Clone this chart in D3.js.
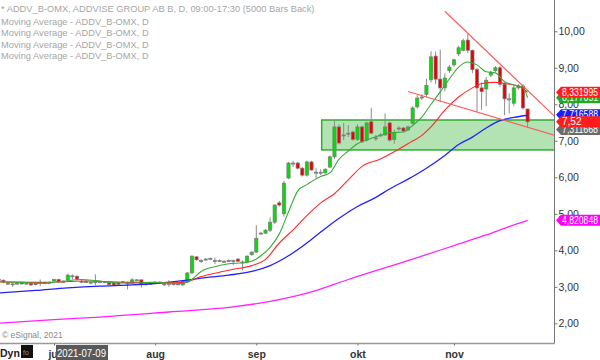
<!DOCTYPE html>
<html>
<head>
<meta charset="utf-8">
<script src="https://cdn.jsdelivr.net/npm/d3@7"></script>
<style>
    body { margin: 0; background: #fff; }
    svg { display: block; font-family: "Liberation Sans", Arial, sans-serif; }
</style>
</head>
<body>
<script>
(function () {
    const width = 600;
    const height = 360;
    const plotRight = 554;
    const plotBottom = 343;

    // trading days, Stockholm closed on midsummer eve
    const holidays = ["2021-06-25"];
    const fmt = d3.timeFormat("%Y-%m-%d");
    const tradingDays = d3.timeDay.range(new Date(2021, 5, 14), new Date(2021, 10, 24))
        .filter(d => d.getDay() % 6 !== 0 && !holidays.includes(fmt(d)))
        .map(fmt);

    const openPrices = [
        3.20, 3.18, 3.10, 3.08, 3.10, 3.12, 3.10, 3.10, 3.10, 3.12, 3.11, 3.12,
        3.16, 3.20, 3.15, 3.19, 3.30, 3.29, 3.15, 3.12, 3.10, 3.14, 3.14, 3.14, 3.11, 3.11, 3.11, 3.14, 3.10, 3.10, 3.19, 3.19, 3.08, 3.07,
        3.13, 3.13, 3.08, 3.09, 3.10, 3.08, 3.05, 3.13, 3.38, 3.82, 3.72, 3.76, 3.78, 3.72, 3.72, 3.70, 3.72, 3.72, 3.76, 3.68, 3.68, 3.88,
        3.95, 4.47, 4.47, 4.55, 4.77, 5.30, 5.00, 5.98, 6.39, 6.39, 6.25, 6.06, 6.42, 6.14, 6.14, 6.12, 6.28, 6.56, 7.38, 7.16, 7.21, 7.24,
        7.04, 7.38, 7.02, 7.52, 7.08, 7.16, 7.16, 7.49, 7.04, 7.35, 7.35, 7.30, 7.48, 7.93, 8.20, 8.27, 8.67, 9.32, 8.69, 8.45, 8.92,
        9.08, 9.38, 9.48, 9.76, 9.48, 8.95, 8.45, 8.42, 8.80, 8.92, 9.00, 8.55, 8.15, 8.03, 8.45, 8.50, 7.87
    ];
    const highPrices = [
        3.25, 3.20, 3.14, 3.12, 3.13, 3.14, 3.12, 3.12, 3.12, 3.20, 3.14, 3.15,
        3.22, 3.22, 3.18, 3.36, 3.34, 3.31, 3.20, 3.17, 3.14, 3.34, 3.16, 3.16, 3.13, 3.12, 3.13, 3.16, 3.15, 3.24, 3.21, 3.20, 3.10, 3.11,
        3.15, 3.15, 3.10, 3.18, 3.12, 3.10, 3.18, 3.40, 3.86, 3.84, 3.76, 3.79, 3.80, 3.80, 3.75, 3.73, 3.75, 3.74, 3.78, 3.72, 3.86, 3.97,
        4.69, 4.50, 4.58, 4.90, 5.26, 5.35, 5.90, 6.42, 6.45, 6.42, 6.28, 6.46, 6.45, 6.25, 6.22, 6.25, 6.60, 7.57, 7.45, 7.49, 7.43, 7.28,
        7.45, 7.42, 7.52, 7.90, 7.16, 7.21, 7.75, 7.52, 7.30, 7.40, 7.38, 7.42, 7.95, 8.25, 8.28, 8.70, 9.45, 9.45, 9.50, 8.85, 9.08,
        9.25, 9.60, 9.80, 9.92, 9.50, 9.00, 8.60, 8.75, 8.92, 9.05, 9.05, 8.60, 8.30, 8.50, 8.55, 8.55, 7.88
    ];
    const lowPrices = [
        3.15, 3.10, 3.05, 3.00, 3.06, 3.06, 3.06, 3.03, 3.04, 3.02, 3.08, 3.09,
        3.14, 3.11, 3.12, 3.15, 3.20, 3.18, 3.10, 3.10, 3.07, 3.04, 3.11, 3.10, 3.04, 3.03, 3.05, 3.11, 2.93, 3.08, 3.16, 2.98, 3.05, 3.05,
        3.10, 3.10, 3.02, 3.00, 3.04, 3.05, 3.03, 3.12, 3.35, 3.72, 3.65, 3.72, 3.74, 3.62, 3.68, 3.67, 3.68, 3.60, 3.68, 3.45, 3.66, 3.85,
        3.93, 4.43, 4.44, 4.50, 4.72, 5.20, 4.92, 5.95, 6.28, 6.22, 6.02, 6.02, 6.18, 5.98, 6.06, 6.10, 6.25, 6.50, 6.90, 7.02, 7.10, 7.00,
        7.00, 6.94, 6.98, 7.18, 7.00, 7.10, 7.14, 6.98, 6.92, 7.28, 7.24, 7.26, 7.45, 7.88, 8.12, 8.20, 8.60, 8.55, 8.06, 8.35, 8.86,
        9.02, 9.32, 9.45, 9.40, 8.85, 7.80, 7.85, 7.95, 8.75, 8.88, 8.48, 7.70, 7.75, 7.95, 8.40, 7.85, 7.36
    ];
    const closePrices = [
        3.20, 3.13, 3.10, 3.08, 3.10, 3.08, 3.10, 3.05, 3.06, 3.12, 3.11, 3.12,
        3.20, 3.13, 3.15, 3.32, 3.30, 3.21, 3.15, 3.15, 3.13, 3.14, 3.14, 3.14, 3.06, 3.05, 3.07, 3.14, 3.10, 3.19, 3.19, 3.06, 3.08, 3.10,
        3.13, 3.13, 3.08, 3.09, 3.06, 3.08, 3.16, 3.38, 3.84, 3.74, 3.72, 3.76, 3.78, 3.72, 3.72, 3.70, 3.72, 3.72, 3.70, 3.68, 3.84, 3.95,
        4.33, 4.47, 4.55, 4.77, 5.24, 5.24, 5.84, 6.39, 6.39, 6.25, 6.06, 6.42, 6.20, 6.14, 6.14, 6.22, 6.56, 7.38, 6.94, 7.16, 7.21, 7.04,
        7.38, 6.97, 7.49, 7.21, 7.08, 7.16, 7.38, 7.02, 7.21, 7.35, 7.27, 7.38, 7.90, 8.17, 8.20, 8.52, 9.30, 8.69, 8.45, 8.72, 9.02,
        9.22, 9.55, 9.74, 9.48, 8.95, 8.45, 8.35, 8.66, 8.88, 9.00, 8.55, 8.15, 8.15, 8.45, 8.50, 7.90, 7.52
    ];

    // moving averages at a few dates
    const maGreen = [
        ["2021-06-14", 3.14], ["2021-06-21", 3.12], ["2021-06-28", 3.10], ["2021-07-05", 3.15], ["2021-07-09", 3.20],
        ["2021-07-14", 3.17], ["2021-07-20", 3.11], ["2021-07-26", 3.10], ["2021-07-30", 3.12], ["2021-08-05", 3.10],
        ["2021-08-10", 3.09], ["2021-08-12", 3.20], ["2021-08-16", 3.42], ["2021-08-19", 3.55], ["2021-08-24", 3.63],
        ["2021-08-27", 3.66], ["2021-08-31", 3.70], ["2021-09-02", 3.85], ["2021-09-06", 4.08], ["2021-09-08", 4.45],
        ["2021-09-10", 5.05], ["2021-09-14", 5.62], ["2021-09-16", 5.80], ["2021-09-21", 6.02], ["2021-09-23", 6.12],
        ["2021-09-27", 6.50], ["2021-09-29", 6.72], ["2021-10-01", 6.92], ["2021-10-05", 7.02], ["2021-10-08", 7.15],
        ["2021-10-12", 7.22], ["2021-10-15", 7.24], ["2021-10-19", 7.42], ["2021-10-21", 7.65], ["2021-10-25", 8.00],
        ["2021-10-27", 8.34], ["2021-10-29", 8.70], ["2021-11-02", 9.02], ["2021-11-04", 9.16], ["2021-11-08", 9.08],
        ["2021-11-10", 8.89], ["2021-11-12", 8.86], ["2021-11-16", 8.62], ["2021-11-18", 8.53], ["2021-11-22", 8.47],
        ["2021-11-23", 8.18]
    ];
    const maRed = [
        ["2021-06-14", 3.13], ["2021-06-28", 3.12], ["2021-07-12", 3.16], ["2021-07-26", 3.12], ["2021-08-06", 3.11],
        ["2021-08-11", 3.14], ["2021-08-16", 3.28], ["2021-08-20", 3.40], ["2021-08-25", 3.48], ["2021-08-31", 3.58],
        ["2021-09-03", 3.75], ["2021-09-08", 4.20], ["2021-09-13", 4.56], ["2021-09-16", 4.95], ["2021-09-21", 5.30],
        ["2021-09-24", 5.55], ["2021-09-29", 5.93], ["2021-10-04", 6.30], ["2021-10-08", 6.50], ["2021-10-13", 6.70],
        ["2021-10-18", 6.92], ["2021-10-21", 7.15], ["2021-10-25", 7.38], ["2021-10-28", 7.84], ["2021-11-02", 8.20],
        ["2021-11-05", 8.45], ["2021-11-09", 8.57], ["2021-11-12", 8.60], ["2021-11-16", 8.57], ["2021-11-19", 8.50],
        ["2021-11-23", 8.33]
    ];
    const maBlue = [
        ["2021-06-14", 2.83], ["2021-06-24", 2.90], ["2021-07-06", 2.97], ["2021-07-15", 3.02], ["2021-07-26", 3.05],
        ["2021-08-02", 3.09], ["2021-08-10", 3.17], ["2021-08-17", 3.25], ["2021-08-24", 3.32], ["2021-08-31", 3.42],
        ["2021-09-06", 3.58], ["2021-09-10", 3.85], ["2021-09-16", 4.20], ["2021-09-21", 4.50], ["2021-09-27", 4.88],
        ["2021-10-01", 5.20], ["2021-10-07", 5.45], ["2021-10-12", 5.68], ["2021-10-18", 5.95], ["2021-10-22", 6.25],
        ["2021-10-28", 6.60], ["2021-11-02", 6.90], ["2021-11-05", 7.10], ["2021-11-10", 7.35], ["2021-11-15", 7.55],
        ["2021-11-18", 7.64], ["2021-11-23", 7.70]
    ];
    const maMagenta = [
        ["2021-06-14", 2.00], ["2021-07-01", 2.10], ["2021-07-15", 2.17], ["2021-08-05", 2.31], ["2021-08-25", 2.45],
        ["2021-09-06", 2.60], ["2021-09-17", 2.86], ["2021-09-29", 3.20], ["2021-10-12", 3.56], ["2021-10-22", 3.88],
        ["2021-11-01", 4.13], ["2021-11-10", 4.42], ["2021-11-17", 4.65], ["2021-11-23", 4.82]
    ];

    // drawn annotations
    const upperTrend = [["2021-10-28", 10.55], ["2021-11-22", 8.50]];
    const lowerTrend = [["2021-10-18", 8.35], ["2021-11-22", 7.41]];
    const zoneStart = "2021-09-21";
    const zoneTop = 7.57;
    const zoneBottom = 6.75;

    const monthTicks = ["2021-07-01", "2021-08-02", "2021-09-01", "2021-10-01", "2021-11-01"];
    const monthLabels = ["jul", "aug", "sep", "okt", "nov"];
    const priceTicks = [2, 3, 4, 5, 6, 7, 8, 9, 10];

    const labelTexts = ["4,820848", "7,311668", "7,716588", "8,177051", "8,331995", "7,52"];
    const labelValues = [4.820848, 7.311668, 7.716588, 8.177051, 8.331995, 7.52];
    const labelColors = ["#ff00ff", "#6b6b6b", "#1c1cff", "#22a822", "#ff1c1c", "#ff1c1c"];

    const legendLines = [
        "* ADDV_B-OMX, ADDVISE GROUP AB B, D, 09:00-17:30 (5000 Bars Back)",
        "Moving Average - ADDV_B-OMX, D",
        "Moving Average - ADDV_B-OMX, D",
        "Moving Average - ADDV_B-OMX, D",
        "Moving Average - ADDV_B-OMX, D"
    ];

    const dayIndex = new Map(tradingDays.map((d, i) => [d, i]));
    const step = 4.598;

    // bar index -> pixel, Jul 1 sits at x=54
    const x = d3.scaleLinear()
        .domain([dayIndex.get("2021-07-01") - 54 / step, dayIndex.get("2021-07-01") + (plotRight - 54) / step])
        .range([0, plotRight]);

    const y = d3.scaleLinear()
        .domain([2, 10])
        .range([323.3, 31.3]);

    const svg = d3.select("body").append("svg")
        .attr("width", width)
        .attr("height", height);

    svg.append("clipPath").attr("id", "plot-clip")
        .append("rect")
        .attr("x", 0).attr("y", 0)
        .attr("width", plotRight).attr("height", plotBottom);

    const plot = svg.append("g").attr("clip-path", "url(#plot-clip)");

    // support zone
    plot.append("rect")
        .attr("x", x(dayIndex.get(zoneStart)) + 1)
        .attr("y", y(zoneTop))
        .attr("width", plotRight + 2 - x(dayIndex.get(zoneStart)))
        .attr("height", y(zoneBottom) - y(zoneTop))
        .attr("fill", "#b3e2b3")
        .attr("stroke", "#2fae2f")
        .attr("stroke-width", 1.5);

    // candles
    const bars = tradingDays.map((d, i) => ({
        i: i, o: openPrices[i], h: highPrices[i], l: lowPrices[i], c: closePrices[i]
    }));
    const bodyW = step * 0.7;

    const candle = plot.append("g").selectAll("g")
        .data(bars)
        .enter()
        .append("g");

    candle.append("line")
        .attr("x1", d => x(d.i)).attr("x2", d => x(d.i))
        .attr("y1", d => y(d.h)).attr("y2", d => y(d.l))
        .attr("stroke", "#8c8c8c")
        .attr("stroke-width", 1);

    candle.append("rect")
        .attr("x", d => x(d.i) - bodyW / 2)
        .attr("width", bodyW)
        .attr("y", d => y(Math.max(d.o, d.c)))
        .attr("height", d => Math.max(1, Math.abs(y(d.o) - y(d.c))))
        .attr("fill", d => d.c > d.o ? "#00e000" : d.c < d.o ? "#ee0000" : "#8c8c8c")
        .attr("stroke", "#7a7a7a")
        .attr("stroke-width", 0.7);

    // moving averages
    const maLine = d3.line()
        .x(d => x(dayIndex.get(d[0])))
        .y(d => y(d[1]))
        .curve(d3.curveMonotoneX);

    [[maMagenta, "#ff22ff", 1.3], [maBlue, "#2222ff", 1.3], [maRed, "#ff2a2a", 1.1], [maGreen, "#3aaa3a", 1.1]]
        .forEach(([pts, color, w]) => {
            plot.append("path")
                .datum(pts)
                .attr("d", maLine)
                .attr("fill", "none")
                .attr("stroke", color)
                .attr("stroke-width", w);
        });

    // trend lines, extended to the price axis
    const rightIdx = x.invert(plotRight + 2);
    [upperTrend, lowerTrend].forEach(t => {
        const i0 = dayIndex.get(t[0][0]);
        const i1 = dayIndex.get(t[1][0]);
        const slope = (t[1][1] - t[0][1]) / (i1 - i0);
        plot.append("line")
            .attr("x1", x(i0)).attr("y1", y(t[0][1]))
            .attr("x2", x(rightIdx)).attr("y2", y(t[0][1] + slope * (rightIdx - i0)))
            .attr("stroke", "#ff5c5c")
            .attr("stroke-width", 1.2);
    });

    // legend
    svg.append("g").selectAll("text")
        .data(legendLines)
        .enter()
        .append("text")
        .attr("x", 1)
        .attr("y", (d, i) => i === 0 ? 11.5 : 24.5 + (i - 1) * 11.6)
        .attr("font-size", 9.3)
        .attr("fill", "#a6a6a6")
        .text(d => d);

    svg.append("text")
        .attr("x", 2).attr("y", 338)
        .attr("font-size", 8.5)
        .attr("fill", "#8a8a8a")
        .text("© eSignal, 2021");

    // axes
    svg.append("line")
        .attr("x1", plotRight + 0.5).attr("x2", plotRight + 0.5)
        .attr("y1", 0).attr("y2", plotBottom + 0.5)
        .attr("stroke", "#777");
    svg.append("line")
        .attr("x1", 0).attr("x2", plotRight + 0.5)
        .attr("y1", plotBottom + 0.5).attr("y2", plotBottom + 0.5)
        .attr("stroke", "#999")
        .attr("stroke-width", 1.5);

    const yAxis = svg.append("g")
        .attr("transform", `translate(${plotRight + 0.5},0)`)
        .call(d3.axisRight(y)
            .tickValues(priceTicks)
            .tickSize(3)
            .tickPadding(1)
            .tickFormat(d => d3.format(".2f")(d).replace(".", ",")));
    yAxis.select(".domain").remove();
    yAxis.selectAll("line").attr("stroke", "#777");
    yAxis.selectAll("text")
        .attr("font-family", "Liberation Sans, Arial, sans-serif")
        .attr("font-size", 10.5)
        .attr("fill", "#333");

    const xAxis = svg.append("g")
        .attr("transform", `translate(0,${plotBottom + 0.5})`)
        .call(d3.axisBottom(x)
            .tickValues(monthTicks.map(d => dayIndex.get(d)))
            .tickSize(2)
            .tickPadding(5)
            .tickFormat((d, i) => monthLabels[i]));
    xAxis.select(".domain").remove();
    xAxis.selectAll("line").attr("stroke", "#777");
    xAxis.selectAll("text")
        .attr("font-family", "Liberation Sans, Arial, sans-serif")
        .attr("font-size", 10.5)
        .attr("font-weight", "bold")
        .attr("fill", "#333");

    // last value tags on the price axis
    labelValues.forEach((v, i) => {
        const yc = y(v);
        svg.append("path")
            .attr("d", `M${plotRight + 2},${yc} L${plotRight + 7},${yc - 5.5} L${width},${yc - 5.5} L${width},${yc + 5.5} L${plotRight + 7},${yc + 5.5} Z`)
            .attr("fill", labelColors[i]);
        const t = svg.append("text")
            .attr("x", plotRight + 8)
            .attr("y", yc)
            .attr("dy", "0.36em")
            .attr("font-size", 10)
            .attr("fill", "#fff")
            .text(labelTexts[i]);
        if (labelTexts[i].length > 6) {
            t.attr("textLength", 36).attr("lengthAdjust", "spacingAndGlyphs");
        }
    });

    // bottom left status bits
    svg.append("text")
        .attr("x", 0).attr("y", 357)
        .attr("font-size", 10.5)
        .attr("font-weight", "bold")
        .attr("fill", "#222")
        .text("Dyn");
    svg.append("rect")
        .attr("x", 21).attr("y", 345)
        .attr("width", 12).attr("height", 13)
        .attr("fill", "#111");
    svg.append("text")
        .attr("x", 23).attr("y", 355)
        .attr("font-size", 7)
        .attr("fill", "#888")
        .text("fo");

    svg.append("rect")
        .attr("x", 56).attr("y", 345)
        .attr("width", 52).attr("height", 15)
        .attr("fill", "#595959");
    svg.append("text")
        .attr("x", 57).attr("y", 357)
        .attr("font-size", 10)
        .attr("textLength", 49)
        .attr("lengthAdjust", "spacingAndGlyphs")
        .attr("fill", "#fff")
        .text("2021-07-09");
})();
</script>
</body>
</html>
